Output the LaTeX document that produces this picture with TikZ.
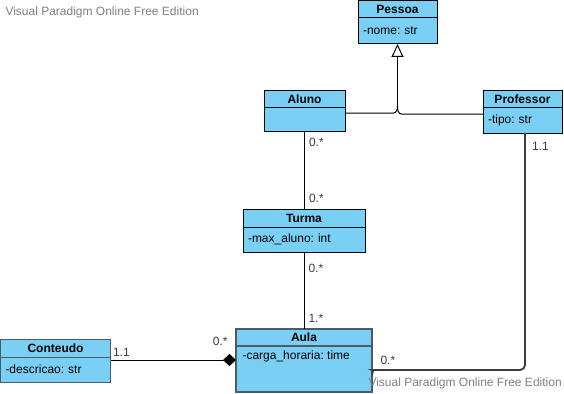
\documentclass[tikz,border=0pt]{standalone}
\usepackage{fontspec}
\setmainfont{Liberation Sans}
\usetikzlibrary{arrows.meta,positioning,calc}

\definecolor{clsfill}{RGB}{122,207,245}
\definecolor{clsedge}{RGB}{78,90,100}
\definecolor{wmgray}{RGB}{128,128,128}
\definecolor{multgray}{RGB}{60,60,60}

\frenchspacing

\begin{document}
\begin{tikzpicture}[
    x=1pt, y=-1pt, line width=1pt,
    font=\fontsize{12}{14}\selectfont,
    cls/.style={rectangle, draw, fill=clsfill, minimum height=17pt,
        inner sep=0pt, outer sep=0pt, anchor=north west,
        font=\fontsize{12}{14}\selectfont\bfseries},
    attr/.style={rectangle, draw, fill=clsfill, align=left,
        inner xsep=5pt, inner ysep=0pt, outer sep=0pt},
    mult/.style={text=multgray, inner sep=1pt},
    wm/.style={text=wmgray, inner sep=0pt}
]
    \useasboundingbox (0,0) rectangle (564,393);

    % classes
    \node[cls, minimum width=79pt] (pessoa) at (358,1) {Pessoa};
    \node[attr, text width=69pt, minimum height=26pt, below=0pt of pessoa] (pessoaBody) {-nome: str};

    \node[cls, minimum width=81pt] (aluno) at (264,91) {Aluno};
    \node[attr, text width=71pt, minimum height=23pt, below=0pt of aluno] (alunoBody) {};

    \node[cls, minimum width=79pt] (professor) at (483,91) {Professor};
    \node[attr, text width=69pt, minimum height=25pt, below=0pt of professor] (professorBody) {-tipo: str};

    \node[cls, minimum width=122pt, minimum height=18pt] (turma) at (243,209) {Turma};
    \node[attr, text width=112pt, minimum height=25pt, below=0pt of turma] (turmaBody) {-max\_aluno: int};

    \node[cls, draw=clsedge, minimum width=110pt, minimum height=18pt] (conteudo) at (0.5,339) {Conteudo};
    \node[attr, draw=clsedge, text width=100pt, minimum height=25pt, below=0pt of conteudo] (conteudoBody) {-descricao: str};

    \node[cls, draw=clsedge, line width=1.5pt, minimum width=136pt] (aula) at (236,329) {Aula};
    \node[attr, draw=clsedge, line width=1.5pt, text width=126pt, minimum height=46pt, below=0pt of aula] (aulaBody) {};
    \node[anchor=north west, inner sep=0pt] (aulaAttr) at ([xshift=6pt,yshift=-4pt]aulaBody.north west) {-carga\_horaria: time};

    % generalization
    \coordinate (gen) at ([yshift=-62pt]pessoaBody.south);
    \coordinate (genL) at ([yshift=-7pt]gen);
    \coordinate (genR) at ([yshift=-8pt]gen);
    \draw[-{Triangle[open,length=13pt,width=12pt]}] (gen) -- (pessoaBody.south);
    \draw (alunoBody.east |- genL) -- ([xshift=-4pt]genL) to[out=0,in=-90] (gen);
    \draw (gen) to[out=-90,in=180] ([xshift=4pt]genR) -- (genR -| professorBody.west);

    % associations
    \draw (alunoBody.south) -- (alunoBody.south |- turma.north)
        node[mult, pos=0.15, right=3pt] (m1) {0.*}
        node[mult, pos=0.86, right=3pt] (m2) {0.*};
    \draw (turmaBody.south) -- (turmaBody.south |- aula.north)
        node[mult, pos=0.21, right=3pt] (m3) {0.*}
        node[mult, pos=0.86, right=3pt] (m4) {1.*};
    \draw[-{Diamond[length=13pt,width=12pt]}] ([yshift=-3pt]conteudoBody.north east)
        -- ([yshift=-3pt]conteudoBody.north east -| aulaBody.west);
    \node[mult, anchor=south west] (m5) at ([xshift=1pt,yshift=-1pt]conteudoBody.north east) {1.1};
    \node[mult, anchor=south east] (m6) at ([xshift=-7pt,yshift=-1pt]aulaBody.north west) {0.*};

    \coordinate (turn) at ([xshift=5pt,yshift=-1pt]aulaBody.east);
    \draw[multgray, line width=1.8pt, rounded corners=5pt]
        ([xshift=2.5pt]professorBody.south) |- (turn)
        to[out=180,in=90] ([yshift=-6pt]aulaBody.east);
    \node[mult, anchor=west] (m7) at ([xshift=8pt,yshift=-13pt]professorBody.south) {1.1};
    \node[mult, anchor=west] (m8) at ([xshift=7pt,yshift=9pt]aulaBody.east) {0.*};

    % watermarks
    \node[wm, anchor=west] (wmTop) at (5,12) {Visual Paradigm Online Free Edition};
    \node[wm, anchor=west] (wmBottom) at (368,383) {Visual Paradigm Online Free Edition};
\end{tikzpicture}
\end{document}
